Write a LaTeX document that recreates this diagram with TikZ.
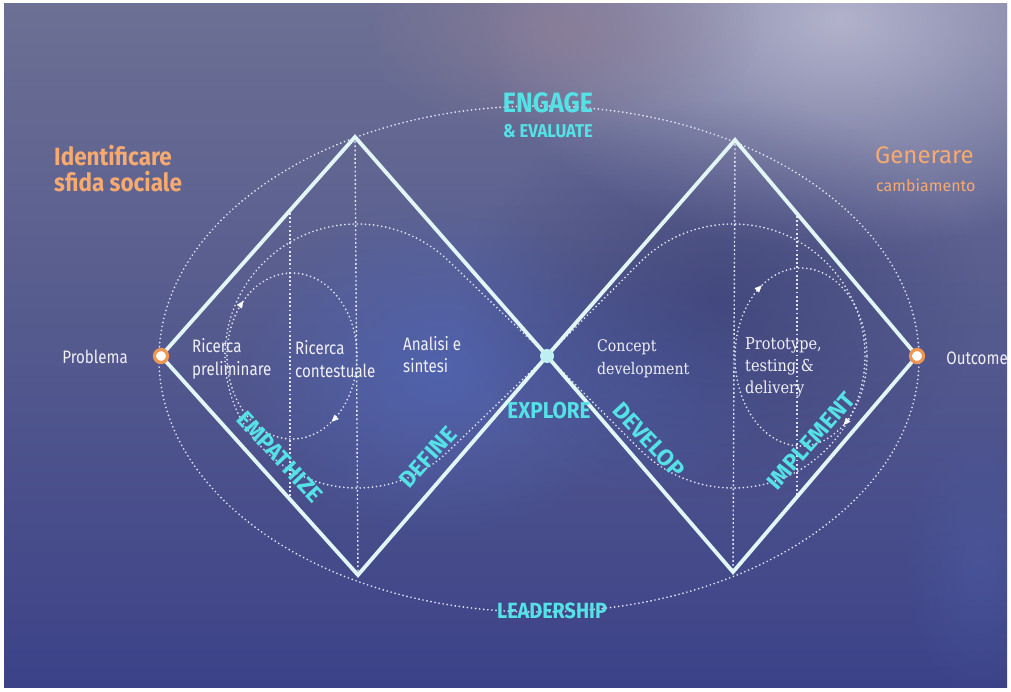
\documentclass[tikz,border=0pt]{standalone}
\usepackage{fontspec}
\usetikzlibrary{decorations.markings,arrows.meta,fadings}
\newfontfamily\condfont[FakeStretch=0.84]{Fira Sans}
\newfontfamily\midfont[FakeStretch=0.9]{Fira Sans}
\newfontfamily\plainsans{Fira Sans}
\newfontfamily\serfont[FakeStretch=0.88]{DejaVu Serif}
\definecolor{cyantext}{RGB}{85,226,230}
\definecolor{orangetext}{RGB}{246,170,112}
\definecolor{orangering}{RGB}{240,150,80}
\definecolor{linecol}{RGB}{226,246,246}
\definecolor{dotcol}{RGB}{226,230,242}
\definecolor{bgtop}{RGB}{108,112,148}
\definecolor{bgbot}{RGB}{60,66,136}
\definecolor{glowA}{RGB}{178,178,204}
\definecolor{glowB}{RGB}{80,100,176}
\definecolor{glowC}{RGB}{140,126,152}
\definecolor{middot}{RGB}{190,240,242}
\definecolor{whitetext}{RGB}{240,240,244}
\tikzfading[name=softglow, inner color=transparent!0, outer color=transparent!100]
\tikzset{
  diamondline/.style={draw=linecol, line width=3.8pt, line join=miter},
  dotline/.style={draw=dotcol, line width=1.9pt, line cap=round, dash pattern=on 0pt off 4.1pt},
  vline/.style={draw=dotcol, line width=1.4pt, dash pattern=on 1.8pt off 2.4pt},
  cyanlabel/.style={text=cyantext, inner sep=0pt},
  orangelabel/.style={text=orangetext, inner sep=0pt, anchor=west, align=left},
  whitelabel/.style={text=whitetext, inner sep=0pt},
  ring/.style={circle, fill=white, draw=orangering, line width=3.2pt, minimum size=13pt, inner sep=0pt},
  cyclemark/.style={postaction={decorate}},
  phaselabel/.style={cyanlabel, font=\plainsans\bfseries\fontsize{23}{25}\selectfont},
  tip/.style={fill=white, draw=white, line width=0.4pt},
}
\begin{document}
\begin{tikzpicture}[x=1pt,y=-1pt]
\useasboundingbox (0,0) rectangle (1011,692);
% background
\fill[white] (0,0) rectangle (1011,692);
\shade[top color=bgtop, bottom color=bgbot] (4,4) rectangle (1007,687);
\begin{scope}
\clip (4,4) rectangle (1007,687);
\fill[glowA, path fading=softglow] (840,20) ellipse (360 and 230);
\fill[glowC, path fading=softglow, fill opacity=0.8] (560,30) ellipse (200 and 110);
\fill[glowB, path fading=softglow, fill opacity=0.9] (440,370) ellipse (200 and 170);
\fill[glowB, path fading=softglow, fill opacity=0.5] (640,380) ellipse (140 and 120);
\fill[bgbot!80!black, path fading=softglow, fill opacity=0.5] (720,300) ellipse (260 and 200);
\fill[glowB, path fading=softglow, fill opacity=0.35] (980,560) ellipse (80 and 140);
\end{scope}

% key points
\coordinate (Lleft) at (161,356);
\coordinate (Ltop) at (355,137);
\coordinate (Lbot) at (358,575);
\coordinate (C) at (547,356);
\coordinate (Rtop) at (735,140);
\coordinate (Rbot) at (733,572);
\coordinate (Rright) at (917,356);

% outer ellipse
\draw[dotline] (539,359) ellipse (380 and 253);

% vertical guide lines
\draw[vline] (290,213) -- (290,500);
\draw[vline] (Ltop) -- (Lbot);
\draw[vline] (Rtop) -- (Rbot);
\draw[vline] (797,216) -- (797,496);

% big loops
\draw[dotline] (C) -- (448.69,261.05) arc[start angle=-46, end angle=-314, radius=132] -- (C);
\draw[dotline] (C) -- (641.31,261.05) arc[start angle=-134, end angle=134, radius=132] -- (C);

% small cycles with arrows
\draw[dotline, cyclemark, decoration={markings,
   mark=at position 0.155 with {\arrow[tip]{Triangle[length=7pt,width=6pt]}},
   mark=at position 0.625 with {\arrow[tip]{Triangle[length=7pt,width=6pt]}}}]
   (292,356) ellipse (65 and 83);
\draw[dotline, cyclemark, decoration={markings,
   mark=at position 0.15 with {\arrow[tip]{Triangle[length=7pt,width=6pt]}},
   mark=at position 0.66 with {\arrow[tip]{Triangle[length=7pt,width=6pt]}}}]
   (801,357) ellipse (66 and 89);

% diamonds
\draw[diamondline] (Lleft) -- (Ltop) -- (C) -- (Lbot) -- cycle;
\draw[diamondline] (C) -- (Rtop) -- (Rright) -- (Rbot) -- cycle;

% markers
\node[ring] (problemdot) at (Lleft) {};
\node[ring] (outcomedot) at (Rright) {};
\node[circle, fill=middot, minimum size=14pt, inner sep=0pt] (middle) at (C) {};

% cyan labels
\node[cyanlabel, font=\midfont\bfseries\fontsize{28}{30}\selectfont] (engage) at (548,103) {ENGAGE};
\node[cyanlabel, font=\midfont\bfseries\fontsize{18.5}{20}\selectfont] (evaluate) at (548,131) {\& EVALUATE};
\node[cyanlabel, font=\midfont\bfseries\fontsize{22}{24}\selectfont] (leadership) at (552,611) {LEADERSHIP};
\node[cyanlabel, font=\midfont\bfseries\fontsize{23}{25}\selectfont] (explore) at (549,411) {EXPLORE};
\node[phaselabel, rotate=-47] (empathize) at (280,457) {EMPATHIZE};
\node[phaselabel, rotate=48] (define) at (428,457) {DEFINE};
\node[phaselabel, rotate=-47] (develop) at (649,440) {DEVELOP};
\node[phaselabel, rotate=49] (implement) at (811,441) {IMPLEMENT};

% orange headings
\node[orangelabel, font=\midfont\bfseries\fontsize{25}{27}\selectfont] (ident) at (54,156) {Identificare};
\node[orangelabel, font=\midfont\bfseries\fontsize{25}{27}\selectfont] (sfida) at (54,182) {sfida sociale};
\node[orangelabel, font=\plainsans\fontsize{24}{26}\selectfont] (generare) at (875,155) {Generare};
\node[orangelabel, font=\plainsans\fontsize{16}{18}\selectfont] (cambia) at (876,185) {cambiamento};

% white labels
\node[whitelabel, font=\condfont\fontsize{18}{20}\selectfont] (problema) at (95,357) {Problema};
\node[whitelabel, font=\condfont\fontsize{18}{20}\selectfont] (outcome) at (977,358) {Outcome};
\node[whitelabel, anchor=west, align=left, font=\condfont\fontsize{18}{23}\selectfont] (ricpre) at (192,359) {Ricerca\\preliminare};
\node[whitelabel, anchor=west, align=left, font=\condfont\fontsize{18}{23}\selectfont] (riccon) at (295,359) {Ricerca\\contestuale};
\node[whitelabel, anchor=west, align=left, font=\condfont\fontsize{18}{22}\selectfont] (analisi) at (403,355) {Analisi e\\sintesi};
\node[whitelabel, anchor=west, align=left, font=\serfont\fontsize{16}{23}\selectfont] (concept) at (597,359) {Concept\\development};
\node[whitelabel, anchor=west, align=left, font=\serfont\fontsize{16.5}{22}\selectfont] (proto) at (745,367) {Prototype,\\testing \&\\delivery};
\end{tikzpicture}
\end{document}
